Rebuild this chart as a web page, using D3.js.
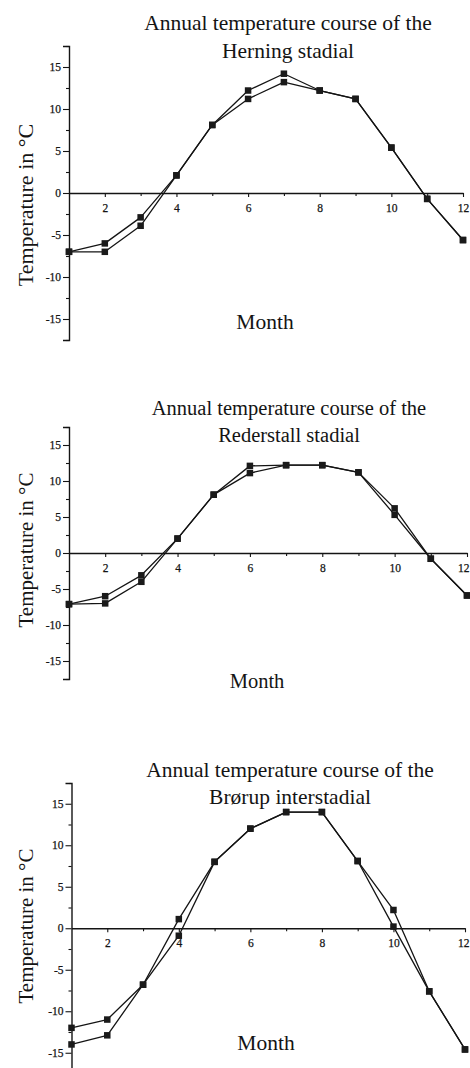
<!DOCTYPE html>
<html>
<head>
<meta charset="utf-8">
<script src="https://cdn.jsdelivr.net/npm/d3@7"></script>
<style>
  html, body { margin: 0; padding: 0; background: #fff; }
  svg { display: block; }
  text { font-family: "Liberation Serif", "Times New Roman", serif; fill: #141414; }
</style>
</head>
<body>
<svg id="chart" width="470" height="1068"></svg>
<script>
// Monthly mean temperatures (°C), two reconstructions per period
const months = [1, 2, 3, 4, 5, 6, 7, 8, 9, 10, 11, 12];

const herningA = [-7, -6, -2.9, 2.1, 8.1, 12.2, 14.2, 12.2, 11.2, 5.4, -0.7, -5.6];
const herningB = [-7, -7, -3.9, 2.1, 8.1, 11.2, 13.2, 12.2, 11.2, 5.4, -0.7, -5.6];

const rederstallA = [-7.1, -6, -3.1, 2, 8.1, 12.1, 12.2, 12.2, 11.2, 6.2, -0.8, -5.9];
const rederstallB = [-7.1, -7, -4, 2, 8.1, 11.1, 12.2, 12.2, 11.2, 5.3, -0.8, -5.9];

const brorupA = [-12, -11, -6.8, 1.1, 8, 12, 14, 14, 8.1, 2.2, -7.6, -14.6];
const brorupB = [-14, -12.9, -6.8, -0.9, 8, 12, 14, 14, 8.1, 0.2, -7.6, -14.6];

const titleLine1 = "Annual temperature course of the";
const periodNames = ["Herning stadial", "Rederstall stadial", "Brørup interstadial"];

const yMajorTicks = [-15, -10, -5, 0, 5, 10, 15];
const yMinorTicks = [-17.5, -12.5, -7.5, -2.5, 2.5, 7.5, 12.5, 17.5];
const xMajorTicks = [2, 4, 6, 8, 10, 12];
const xMinorTicks = [3, 5, 7, 9, 11];

const yDomain = [-17.5, 17.5];
const xDomain = [1, 12];

const yAxisTitle = "Temperature in °C";
const xAxisTitle = "Month";

// Panel placement on the page
const panels = [
  { series: [herningA, herningB], name: periodNames[0],
    x0: 69, x1: 463, yTop: 46, yBot: 340,
    titleX: 288, title1Y: 30, title2Y: 58, titleSize: 21.5,
    monthX: 265, monthY: 329, yTitleX: 33, yTitleY: 205, yTitleSize: 22 },
  { series: [rederstallA, rederstallB], name: periodNames[1],
    x0: 69, x1: 467, yTop: 427, yBot: 679,
    titleX: 289, title1Y: 415, title2Y: 442, titleSize: 20.5,
    monthX: 257, monthY: 688, yTitleX: 33, yTitleY: 550, yTitleSize: 21 },
  { series: [brorupA, brorupB], name: periodNames[2],
    x0: 71.5, x1: 465, yTop: 783, yBot: 1073.5,
    titleX: 290, title1Y: 777, title2Y: 804, titleSize: 21.5,
    monthX: 266, monthY: 1050, yTitleX: 33, yTitleY: 926, yTitleSize: 21 }
];

const svg = d3.select("#chart");
const pageWidth = +svg.attr("width");
const ink = "#141414";
const fmt = d => (d < 0 ? "-" + Math.abs(d) : String(d));

function styleTickText(sel) {
  sel.attr("font-size", 11.5)
    .attr("font-family", "Liberation Serif, serif")
    .attr("fill", ink).attr("stroke", ink).attr("stroke-width", 0.25);
}

panels.forEach(p => {
  const x = d3.scaleLinear().domain(xDomain).range([p.x0, p.x1]);
  const y = d3.scaleLinear().domain(yDomain).range([p.yBot, p.yTop]);
  const g = svg.append("g");

  // Vertical axis with minor ticks every 2.5 °C
  const yAxis = g.append("g").attr("transform", `translate(${x(xDomain[0])},0)`)
    .call(d3.axisLeft(y).tickValues(yMajorTicks).tickSize(6).tickPadding(2).tickFormat(fmt));
  yAxis.select(".domain").attr("stroke", ink).attr("stroke-width", 1.4);
  yAxis.selectAll(".tick line").attr("stroke", ink).attr("stroke-width", 1.1);
  styleTickText(yAxis.selectAll(".tick text"));
  g.append("g").attr("transform", `translate(${x(xDomain[0])},0)`)
    .call(d3.axisLeft(y).tickValues(yMinorTicks).tickSize(3).tickFormat(""))
    .call(s => s.select(".domain").remove())
    .selectAll(".tick line").attr("stroke", ink).attr("stroke-width", 1.1);

  // Horizontal axis along 0 °C
  const xAxis = g.append("g").attr("transform", `translate(0,${y(0)})`)
    .call(d3.axisBottom(x).tickValues(xMajorTicks).tickSize(4).tickPadding(6.5).tickSizeOuter(0));
  xAxis.select(".domain").attr("stroke", ink).attr("stroke-width", 1.4);
  xAxis.selectAll(".tick line").attr("stroke", ink).attr("stroke-width", 1.1);
  styleTickText(xAxis.selectAll(".tick text"));
  // keep a label that would run past the page edge inside it
  xAxis.selectAll(".tick text").each(function (d) {
    const px = x(d);
    if (px + 6 > pageWidth) {
      d3.select(this).attr("text-anchor", "end").attr("x", pageWidth - 1 - px);
    }
  });
  g.append("g").attr("transform", `translate(0,${y(0)})`)
    .call(d3.axisBottom(x).tickValues(xMinorTicks).tickSize(3).tickFormat(""))
    .call(s => s.select(".domain").remove())
    .selectAll(".tick line").attr("stroke", ink).attr("stroke-width", 1.1);

  // Two temperature curves with square markers
  const line = d3.line().x((d, i) => x(months[i])).y(d => y(d));
  p.series.forEach(vals => {
    g.append("path").datum(vals)
      .attr("d", line).attr("fill", "none")
      .attr("stroke", ink).attr("stroke-width", 1.3).attr("stroke-linejoin", "round");
  });
  const sq = 6.5;
  p.series.forEach(vals => {
    g.append("g").selectAll("rect").data(vals).join("rect")
      .attr("x", (d, i) => x(months[i]) - sq / 2)
      .attr("y", d => y(d) - sq / 2)
      .attr("width", sq).attr("height", sq)
      .attr("fill", "#1a1a1a");
  });

  // Titles
  g.append("text").attr("x", p.titleX).attr("y", p.title1Y)
    .attr("text-anchor", "middle").attr("font-size", p.titleSize).text(titleLine1);
  g.append("text").attr("x", p.titleX).attr("y", p.title2Y)
    .attr("text-anchor", "middle").attr("font-size", p.titleSize).text(p.name);

  g.append("text").attr("x", p.monthX).attr("y", p.monthY)
    .attr("text-anchor", "middle").attr("font-size", p.titleSize).text(xAxisTitle);

  g.append("text")
    .attr("transform", `translate(${p.yTitleX},${p.yTitleY}) rotate(-90)`)
    .attr("text-anchor", "middle").attr("font-size", p.yTitleSize).text(yAxisTitle);
});
</script>
</body>
</html>
